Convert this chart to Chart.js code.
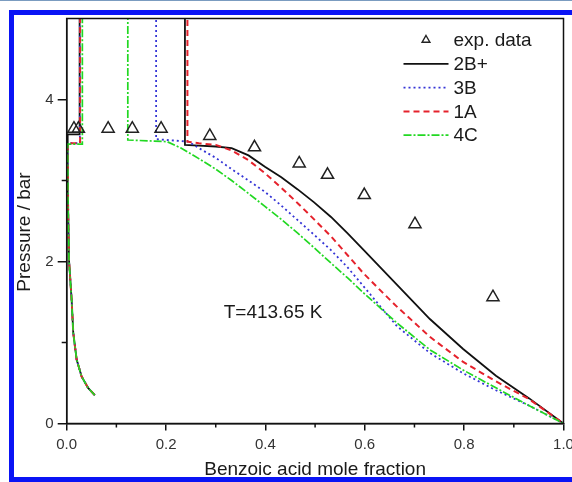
<!DOCTYPE html>
<html><head><meta charset="utf-8">
<script src="https://cdn.jsdelivr.net/npm/chart.js@4.4.1/dist/chart.umd.min.js"></script>
<style>
html,body{margin:0;padding:0;background:#fff;}
#wrap{position:relative;width:572px;height:482px;overflow:hidden;background:#fff;}
#topline{position:absolute;left:0;top:0;width:572px;height:1px;background:#7b9cc0;}
#frame{position:absolute;left:9px;top:10px;width:620px;height:472px;box-sizing:border-box;border:5px solid #0a14f5;pointer-events:none;}
canvas{position:absolute;left:0;top:0;}
</style></head><body>
<div id="wrap"><canvas id="c" width="572" height="482"></canvas><div id="topline"></div><div id="frame"></div></div>
<script>
const FONT = '"Liberation Sans", Arial, Helvetica, sans-serif';

// axis ticks
const xTickValues = [0, 0.2, 0.4, 0.6, 0.8, 1.0];
const xTickLabels = ['0.0', '0.2', '0.4', '0.6', '0.8', '1.0'];
const xMinorTicks = [0.1, 0.3, 0.5, 0.7, 0.9];
const yTickValues = [0, 2, 4];
const yTickLabels = ['0', '2', '4'];
const yMinorTicks = [1, 3];

const xTitle = 'Benzoic acid mole fraction';
const yTitle = 'Pressure / bar';
const noteText = 'T=413.65 K';
const noteAt = [0.316, 1.365];

// experimental data
const expLabel = 'exp. data';
const expX = [0.0146, 0.0235, 0.0834, 0.132, 0.190, 0.288, 0.378, 0.468, 0.525, 0.599, 0.701, 0.858];
const expY = [3.64, 3.64, 3.64, 3.64, 3.64, 3.55, 3.41, 3.21, 3.07, 2.82, 2.46, 1.56];

// model curves (null = break between branches)
const x2B = [0.0565, 0.043, 0.030, 0.020, 0.0132, 0.010, 0.0046, 0.0026, 0.002, 0.002, 0.026, 0.026, 0.1,
             0.238, 0.238, 0.266, 0.30, 0.332, 0.366, 0.399, 0.432, 0.465, 0.498, 0.532, 0.565, 0.598, 0.665, 0.731, 0.798, 0.864, 0.931, 1.0];
const y2B = [0.35, 0.44, 0.58, 0.79, 1.12, 1.52, 2.02, 2.76, 3.46, 3.57, 3.57, 5.6, null,
             5.6, 3.44, 3.43, 3.42, 3.40, 3.31, 3.17, 3.04, 2.89, 2.73, 2.55, 2.35, 2.14, 1.71, 1.29, 0.92, 0.59, 0.31, 0];

const x3B = [0.0565, 0.043, 0.030, 0.020, 0.0132, 0.010, 0.0046, 0.0026, 0.002, 0.0265, 0.0265, 0.1,
             0.180, 0.180, 0.245, 0.266, 0.30, 0.332, 0.366, 0.399, 0.432, 0.465, 0.498, 0.532, 0.565, 0.598, 0.632, 0.665, 0.731, 0.798, 0.864, 0.931, 1.0];
const y3B = [0.35, 0.44, 0.58, 0.79, 1.12, 1.52, 2.02, 2.76, 3.46, 3.46, 5.6, null,
             5.6, 3.51, 3.48, 3.40, 3.28, 3.14, 3.00, 2.86, 2.69, 2.51, 2.33, 2.14, 1.93, 1.69, 1.44, 1.20, 0.87, 0.62, 0.41, 0.22, 0];

const x1A = [0.0565, 0.043, 0.030, 0.020, 0.0132, 0.010, 0.0046, 0.0026, 0.002, 0.027, 0.027, 0.1,
             0.243, 0.243, 0.266, 0.30, 0.332, 0.366, 0.399, 0.432, 0.465, 0.498, 0.532, 0.565, 0.598, 0.632, 0.665, 0.731, 0.798, 0.864, 0.931, 1.0];
const y1A = [0.35, 0.44, 0.58, 0.79, 1.12, 1.52, 2.02, 2.76, 3.46, 3.46, 5.6, null,
             5.6, 3.48, 3.46, 3.44, 3.37, 3.25, 3.09, 2.91, 2.72, 2.52, 2.31, 2.08, 1.85, 1.64, 1.44, 1.07, 0.76, 0.52, 0.30, 0];

const x4C = [0.0565, 0.043, 0.030, 0.020, 0.0132, 0.010, 0.0046, 0.0026, 0.002, 0.0315, 0.0315, 0.1,
             0.123, 0.123, 0.202, 0.23, 0.266, 0.30, 0.332, 0.366, 0.399, 0.432, 0.465, 0.498, 0.532, 0.565, 0.598, 0.665, 0.731, 0.798, 0.864, 0.931, 1.0];
const y4C = [0.35, 0.44, 0.58, 0.79, 1.12, 1.52, 2.02, 2.76, 3.45, 3.45, 5.6, null,
             5.6, 3.50, 3.48, 3.40, 3.27, 3.14, 3.00, 2.84, 2.68, 2.52, 2.35, 2.17, 1.98, 1.80, 1.61, 1.24, 0.91, 0.66, 0.44, 0.22, 0];

const pts = (xs, ys) => xs.map((x, i) => ({x: x, y: ys[i]}));

const lineDs = (label, xs, ys, color, width, dash, order) => ({
  label: label, data: pts(xs, ys), showLine: true, borderColor: color, backgroundColor: color,
  borderWidth: width, borderDash: dash, pointRadius: 0, pointHoverRadius: 0, tension: 0, spanGaps: false, order: order
});

const datasets = [
  { label: expLabel, data: pts(expX, expY), showLine: false, pointStyle: 'triangle', pointRadius: 7, order: 0,
    pointBorderWidth: 1.5, borderColor: '#222', backgroundColor: 'rgba(0,0,0,0)', pointBackgroundColor: 'rgba(0,0,0,0)', pointBorderColor: '#222' },
  lineDs('2B+', x2B, y2B, '#111111', 1.8, [], 4),
  lineDs('3B', x3B, y3B, '#3535d6', 1.8, [2, 3], 3),
  lineDs('1A', x1A, y1A, '#e5222c', 2.0, [6, 4], 2),
  lineDs('4C', x4C, y4C, '#22d822', 1.7, [8, 2, 2, 2], 1)
];

const decor = {
  id: 'decor',
  afterDatasetsDraw(chart) {
    const {ctx, chartArea: a, scales: {x, y}} = chart;
    ctx.save();
    // frame
    ctx.strokeStyle = '#111'; ctx.lineWidth = 1.5;
    ctx.strokeRect(a.left, a.top, a.right - a.left, a.bottom - a.top);
    // minor ticks
    ctx.beginPath();
    xMinorTicks.forEach(v => { const p = x.getPixelForValue(v); ctx.moveTo(p, a.bottom); ctx.lineTo(p, a.bottom + 4); });
    yMinorTicks.forEach(v => { const p = y.getPixelForValue(v); ctx.moveTo(a.left - 5, p); ctx.lineTo(a.left, p); });
    ctx.stroke();
    // annotation
    ctx.fillStyle = '#1a1a1a';
    ctx.font = '19px ' + FONT;
    ctx.textAlign = 'left'; ctx.textBaseline = 'middle';
    ctx.fillText(noteText, x.getPixelForValue(noteAt[0]), y.getPixelForValue(noteAt[1]));
    // legend
    const sx0 = a.right - 160, sx1 = a.right - 115, tx = a.right - 110;
    datasets.forEach((ds, i) => {
      const ry = a.top + 21.5 + i * 23.8;
      ctx.save();
      if (i === 0) {
        const cx = (sx0 + sx1) / 2, r = 4.5;
        ctx.strokeStyle = '#222'; ctx.lineWidth = 1.4;
        ctx.beginPath();
        ctx.moveTo(cx, ry - r);
        ctx.lineTo(cx + r * 0.866, ry + r * 0.5);
        ctx.lineTo(cx - r * 0.866, ry + r * 0.5);
        ctx.closePath(); ctx.stroke();
      } else {
        ctx.strokeStyle = ds.borderColor; ctx.lineWidth = ds.borderWidth;
        ctx.setLineDash(ds.borderDash);
        ctx.beginPath(); ctx.moveTo(sx0, ry); ctx.lineTo(sx1, ry); ctx.stroke();
      }
      ctx.restore();
      ctx.fillStyle = '#1a1a1a';
      ctx.font = '19px ' + FONT;
      ctx.textAlign = 'left'; ctx.textBaseline = 'middle';
      ctx.fillText(ds.label, tx, ry + 1);
    });
    // y title
    ctx.translate(25, 232);
    ctx.rotate(-Math.PI / 2);
    ctx.textAlign = 'center'; ctx.textBaseline = 'middle';
    ctx.fillText(yTitle, 0, 0);
    ctx.restore();
  }
};

new Chart(document.getElementById('c'), {
  type: 'scatter',
  data: { datasets: datasets },
  options: {
    responsive: false, animation: false, devicePixelRatio: 1,
    layout: { padding: { top: 18.5, right: 4, left: 0, bottom: 0 } },
    plugins: { legend: { display: false }, tooltip: { enabled: false } },
    scales: {
      x: {
        type: 'linear', min: 0, max: 1,
        afterFit(s) { s.height = 58.5; s.paddingLeft = 0; s.paddingRight = 0; },
        afterBuildTicks(s) { s.ticks = xTickValues.map(v => ({value: v})); },
        ticks: { callback: (v, i) => xTickLabels[i], color: '#333', font: { family: FONT, size: 15 }, padding: 5, maxRotation: 0, autoSkip: false },
        grid: { display: true, drawOnChartArea: false, drawTicks: true, tickLength: 7, color: '#111', lineWidth: 1.5 },
        border: { display: true, color: '#111', width: 1.5 },
        title: { display: true, text: xTitle, color: '#1a1a1a', font: { family: FONT, size: 19 }, padding: { top: 0, bottom: 1 } }
      },
      y: {
        type: 'linear', min: 0, max: 5,
        afterFit(s) { s.width = 66.7; s.paddingTop = 0; s.paddingBottom = 0; },
        afterBuildTicks(s) { s.ticks = yTickValues.map(v => ({value: v})); },
        ticks: { callback: (v, i) => yTickLabels[i], color: '#333', font: { family: FONT, size: 15 }, padding: 4 },
        grid: { display: true, drawOnChartArea: false, drawTicks: true, tickLength: 9, color: '#111', lineWidth: 1.5 },
        border: { display: true, color: '#111', width: 1.5 }
      }
    }
  },
  plugins: [decor]
});
</script>
</body></html>
